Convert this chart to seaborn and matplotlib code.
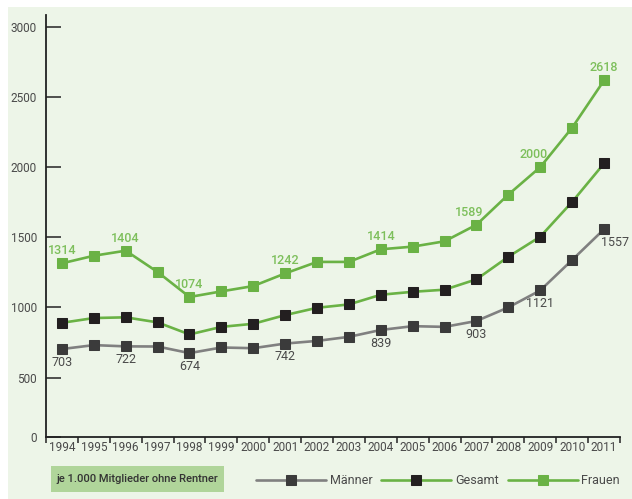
import numpy as np
import pandas as pd
import matplotlib
matplotlib.use("Agg")
import matplotlib.pyplot as plt
from matplotlib.patches import Rectangle
import seaborn as sns
import warnings

warnings.filterwarnings("ignore")

# Daten (je 1.000 Mitglieder ohne Rentner)
years = list(range(1994, 2012))
maenner = [703, 731, 722, 721, 674, 714, 709, 742, 761, 790, 839, 866, 861, 903, 1000, 1121, 1338, 1557]
gesamt = [890, 924, 929, 893, 807, 861, 883, 945, 997, 1021, 1090, 1111, 1126, 1200, 1361, 1504, 1752, 2026]
frauen = [1314, 1368, 1404, 1252, 1074, 1114, 1152, 1242, 1324, 1324, 1414, 1433, 1471, 1589, 1804, 2000, 2281, 2618]

# beschriftete Punkte
frauen_labels = [1994, 1996, 1998, 2001, 2004, 2007, 2009, 2011]
maenner_labels = [1994, 1996, 1998, 2001, 2004, 2007, 2009, 2011]

ytick_vals = [500, 1000, 1500, 2000, 2500, 3000]
box_text = "je 1.000 Mitglieder ohne Rentner"

# Farben
BG = "#edf5e8"
GREEN = "#6ab245"
GREEN_TXT = "#7dbf5b"
GREY = "#808080"
GREY_MK = "#3b3b3b"
BLACK_MK = "#231f20"
TXT = "#4a4a4a"
BOX = "#b0d59a"
Y_BASE = 76  # Achse beginnt nicht bei echten 0

sns.set_theme(style="white")
plt.rcParams['font.family'] = ['Roboto', 'DejaVu Sans']

df = pd.DataFrame({"pos": np.arange(len(years)), "Männer": maenner,
                   "Gesamt": gesamt, "Frauen": frauen})

fig = plt.figure(figsize=(6.32, 4.99), dpi=100)
fig.patch.set_facecolor(BG)
# weisse Ränder oben und links
fig.patches.append(Rectangle((0, 1 - 7 / 499), 1, 7 / 499, transform=fig.transFigure,
                             facecolor="white", edgecolor="none", zorder=-5))
fig.patches.append(Rectangle((0, 0), 8 / 632, 1, transform=fig.transFigure,
                             facecolor="white", edgecolor="none", zorder=-5))

ax = fig.add_axes([46 / 632, 1 - 437 / 499, 574 / 632, (437 - 15) / 499])
ax.set_facecolor("none")

line_kw = dict(linewidth=1.9, marker="s", markersize=6.6, sort=False)
sns.lineplot(data=df, x="pos", y="Männer", ax=ax, color=GREY,
             markerfacecolor=GREY_MK, markeredgecolor=GREY_MK, label="Männer", **line_kw)
sns.lineplot(data=df, x="pos", y="Gesamt", ax=ax, color=GREEN,
             markerfacecolor=BLACK_MK, markeredgecolor=BLACK_MK, label="Gesamt", **line_kw)
sns.lineplot(data=df, x="pos", y="Frauen", ax=ax, color=GREEN,
             markerfacecolor=GREEN, markeredgecolor=GREEN, label="Frauen", **line_kw)

# Wertebeschriftungen
for yr in frauen_labels:
    i = years.index(yr)
    dx = 0
    if yr in (2007, 2009):
        dx = -5
    ax.annotate(str(frauen[i]), (i, frauen[i]), xytext=(dx, 9), textcoords="offset points",
                ha="center", va="center", fontsize=9, fontweight="medium", color=GREEN_TXT)
for yr in maenner_labels:
    i = years.index(yr)
    dx, ha = 0, "center"
    if yr == 2011:
        dx, ha = -2, "left"
    ax.annotate(str(maenner[i]), (i, maenner[i]), xytext=(dx, -9.5), textcoords="offset points",
                ha=ha, va="center", fontsize=9, color=TXT)

ax.set_xlim(-0.5, len(years) - 0.5)
ax.set_ylim(Y_BASE, 3084)
ax.set_xlabel("")
ax.set_ylabel("")

# y-Achse
ax.set_yticks([Y_BASE] + ytick_vals)
ax.set_yticklabels(["0"] + [str(v) for v in ytick_vals])
ax.tick_params(axis="y", direction="in", length=10.5, width=1.2, color="#333333",
               pad=6.5, labelsize=8.5, labelcolor=TXT, left=True)

# x-Achse: Striche an den Grenzen, Jahreszahlen dazwischen
ax.set_xticks(np.arange(len(years) + 1) - 0.5)
ax.set_xticklabels([])
ax.set_xticks(np.arange(len(years)), minor=True)
ax.set_xticklabels([str(y) for y in years], minor=True)
ax.tick_params(axis="x", which="major", direction="out", length=4, width=1.2,
               color="#333333", bottom=True)
ax.tick_params(axis="x", which="minor", length=0, pad=3, labelsize=8.5, labelcolor=TXT)

for s in ["top", "right"]:
    ax.spines[s].set_visible(False)
for s in ["left", "bottom"]:
    ax.spines[s].set_color("#222222")
    ax.spines[s].set_linewidth(1.3)

# Legende
handles, labels = ax.get_legend_handles_labels()
ax.get_legend().remove()
fig.legend(handles, labels, loc="center right", bbox_to_anchor=(620 / 632, 1 - 481 / 499),
           ncol=3, frameon=False, handlelength=5.6, handletextpad=0.3, columnspacing=0.7,
           borderpad=0, borderaxespad=0, fontsize=9, labelcolor=TXT)

# Kasten unten links
fig.patches.append(Rectangle((51 / 632, 1 - 492 / 499), 173 / 632, 26 / 499,
                             transform=fig.transFigure, facecolor=BOX, edgecolor="none", zorder=1))
fig.text(137.5 / 632, 1 - 479 / 499, box_text, ha="center", va="center",
         fontsize=8, fontweight="medium", color="#333333")

fig.savefig("out.png", dpi=100, facecolor=fig.get_facecolor())
